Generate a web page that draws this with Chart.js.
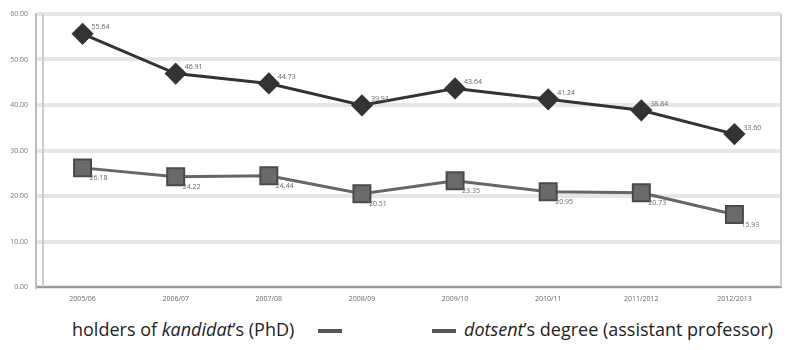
<!DOCTYPE html>
<html>
<head>
<meta charset="utf-8">
<script src="https://cdn.jsdelivr.net/npm/chart.js@4/dist/chart.umd.min.js"></script>
<style>
  html, body { margin: 0; padding: 0; background: #fff; }
  #wrap { position: relative; width: 795px; height: 310px; }
  #legend { position: absolute; left: 0; top: 312px; width: 795px; height: 38px;
    font-family: "Open Sans", "Noto Sans", sans-serif; font-size: 18px; color: #222; }
  #legend span.t { position: absolute; top: 5px; white-space: nowrap; }
  #legend span.l { position: absolute; top: 17px; height: 4px; background: #555; }
</style>
</head>
<body>
<div id="wrap"><canvas id="c" width="795" height="310"></canvas></div>
<div id="legend">
  <span class="t" style="left:72px">holders of <i>kandidat</i>’s (PhD)</span>
  <span class="l" style="left:318px;width:24px"></span>
  <span class="l" style="left:432px;width:24px"></span>
  <span class="t" style="left:464px"><i>dotsent</i>’s degree (assistant professor)</span>
</div>
<script>
const categories = ["2005/06", "2006/07", "2007/08", "2008/09", "2009/10", "2010/11", "2011/2012", "2012/2013"];
const kandidat = [55.64, 46.91, 44.73, 39.93, 43.64, 41.24, 38.84, 33.60];
const dotsent = [26.18, 24.22, 24.44, 20.51, 23.35, 20.95, 20.73, 15.93];
const yTicks = [0, 10, 20, 30, 40, 50, 60];

const pointLabels = {
  id: 'pointLabels',
  afterDatasetsDraw(chart) {
    const ctx = chart.ctx;
    ctx.save();
    ctx.font = '7px "Open Sans", sans-serif';
    ctx.fillStyle = '#666';
    chart.data.datasets.forEach((ds, i) => {
      const meta = chart.getDatasetMeta(i);
      meta.data.forEach((pt, j) => {
        const v = ds.data[j].toFixed(2);
        ctx.textAlign = 'left';
        if (i === 0) {
          ctx.textBaseline = 'bottom';
          ctx.fillText(v, pt.x + 9, pt.y - 3);
        } else {
          ctx.textBaseline = 'top';
          ctx.fillText(v, pt.x + 7, pt.y + 7);
        }
      });
    });
    ctx.restore();
  }
};

const frame = {
  id: 'frame',
  beforeDatasetsDraw(chart) {
    const { ctx, chartArea: a } = chart;
    ctx.save();
    ctx.strokeStyle = '#ccc';
    ctx.lineWidth = 2;
    ctx.beginPath();
    ctx.moveTo(a.right, a.top);
    ctx.lineTo(a.right, a.bottom);
    ctx.moveTo(a.left + 7, a.top);
    ctx.lineTo(a.left + 7, a.bottom);
    ctx.stroke();
    ctx.restore();
  }
};

new Chart(document.getElementById('c'), {
  type: 'line',
  data: {
    labels: categories,
    datasets: [
      { label: 'kandidat', data: kandidat, borderColor: '#333', borderWidth: 3,
        pointStyle: 'rectRot', pointRadius: 9, pointBackgroundColor: '#333', pointBorderColor: '#333',
        tension: 0 },
      { label: 'dotsent', data: dotsent, borderColor: '#666', borderWidth: 3,
        pointStyle: 'rect', pointRadius: 12, pointBackgroundColor: '#6a6a6a', pointBorderColor: '#4a4a4a',
        pointBorderWidth: 2, tension: 0 }
    ]
  },
  options: {
    responsive: false,
    animation: false,
    layout: { padding: { top: 8, right: 4, left: 0, bottom: 0 } },
    plugins: { legend: { display: false }, tooltip: { enabled: false } },
    scales: {
      x: {
        offset: true,
        grid: { display: false, drawTicks: false },
        border: { display: true, color: '#999', width: 2 },
        ticks: { color: '#666', font: { size: 7, family: 'Open Sans' }, padding: 8, maxRotation: 0 },
        afterFit(s) { s.height = 23; }
      },
      y: {
        min: 0, max: 60,
        afterBuildTicks(s) { s.ticks = yTicks.map(v => ({ value: v })); },
        grid: { color: '#e6e6e6', lineWidth: 4, drawTicks: false },
        border: { display: true, color: '#bbb', width: 2 },
        ticks: { color: '#777', font: { size: 7, family: 'Open Sans' }, padding: 8,
          callback: v => v.toFixed(2) },
        afterFit(s) { s.width = 36; }
      }
    }
  },
  plugins: [frame, pointLabels]
});
</script>
</body>
</html>
